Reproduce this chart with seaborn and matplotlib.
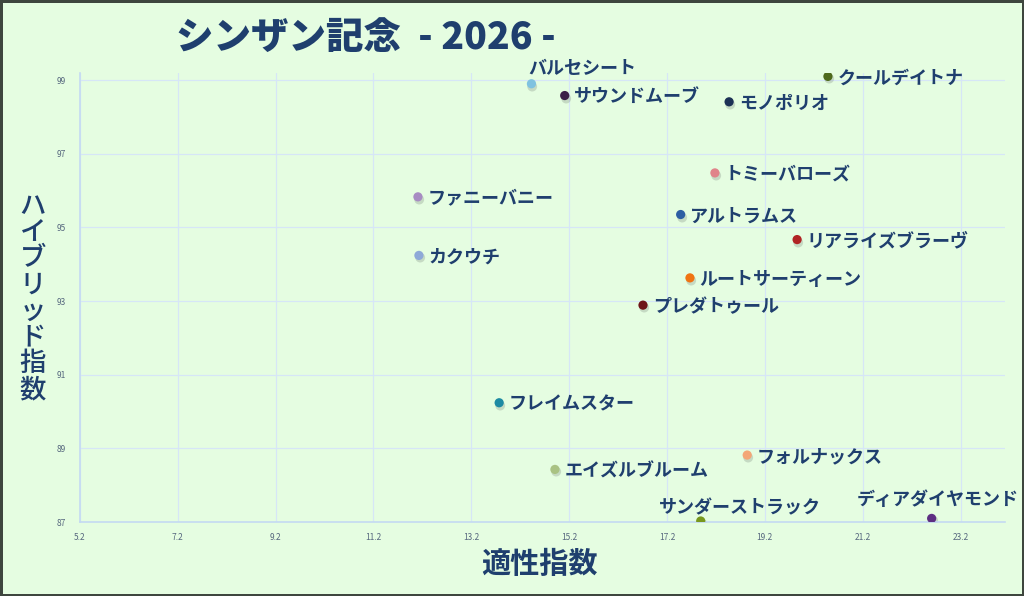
import matplotlib
matplotlib.use("Agg")
import matplotlib.pyplot as plt
import matplotlib.transforms as mtransforms
import pandas as pd
import seaborn as sns

# 馬名・適性指数・ハイブリッド指数
horses = ["バルセシート", "サウンドムーブ", "モノポリオ", "クールデイトナ",
          "トミーバローズ", "ファニーバニー", "アルトラムス", "リアライズブラーヴ",
          "カクウチ", "ルートサーティーン", "プレダトゥール", "フレイムスター",
          "フォルナックス", "エイズルブルーム", "サンダーストラック", "ディアダイヤモンド"]
aptitude = [14.43, 15.11, 18.47, 20.49, 18.18, 12.11, 17.48, 19.86,
            12.13, 17.67, 16.71, 13.77, 18.84, 14.91, 17.89, 22.61]
hybrid = [98.90, 98.58, 98.41, 99.10, 96.48, 95.83, 95.35, 94.67,
          94.24, 93.63, 92.89, 90.24, 88.82, 88.43, 87.03, 87.10]
colors = ["#7fc2e0", "#3b2048", "#1c3155", "#4e6a1c", "#e0848a", "#a78cc2",
          "#2d5ea3", "#b02424", "#8ea9d8", "#f07412", "#6e1418", "#1d8aa3",
          "#f3a676", "#a9c283", "#78981e", "#5d2f82"]
x_ticks = [5.2, 7.2, 9.2, 11.2, 13.2, 15.2, 17.2, 19.2, 21.2, 23.2]
y_ticks = [87, 89, 91, 93, 95, 97, 99]

df = pd.DataFrame({"name": horses, "x": aptitude, "y": hybrid})

BG = "#e5fde1"
NAVY = "#1f3f6e"

sns.set_style("white")
plt.rcParams["font.family"] = ["Noto Sans CJK JP", "DejaVu Sans"]

fig = plt.figure(figsize=(10.24, 5.96), dpi=100, facecolor=BG,
                 edgecolor="#3e463e", linewidth=2.5)
ax = fig.add_axes([0.078, 0.124, 0.903, 0.754])
ax.set_facecolor(BG)

# 点の下の薄い影
sns.scatterplot(data=df, x="x", y="y", color="#8c9a8c", alpha=0.35, s=50,
                linewidth=0, ax=ax, legend=False)
shadow = ax.collections[-1]
shadow.set_transform(shadow.get_transform()
                     + mtransforms.ScaledTranslation(0.5 / 72, -1.5 / 72,
                                                     fig.dpi_scale_trans))
sns.scatterplot(data=df, x="x", y="y", hue="name", palette=colors, s=44,
                linewidth=0, ax=ax, legend=False, zorder=3)

# ラベル位置（右以外のもの）
above = {"バルセシート": (-2, 4),
         "サンダーストラック": (-30, 3),
         "ディアダイヤモンド": (-54, 7)}
for name, xv, yv in zip(horses, aptitude, hybrid):
    if name in above:
        dx, dy = above[name]
        ax.annotate(name, (xv, yv), xytext=(dx, dy), textcoords="offset points",
                    ha="left", va="bottom", fontsize=13, fontweight="bold",
                    color=NAVY, zorder=4)
    else:
        ax.annotate(name, (xv, yv), xytext=(7, -1), textcoords="offset points",
                    ha="left", va="center", fontsize=13, fontweight="bold",
                    color=NAVY, zorder=4)

ax.set_xlim(5.2, 24.1)
ax.set_ylim(87, 99.2)
ax.set_xticks(x_ticks)
ax.set_xticklabels([f"{t:.1f}" for t in x_ticks])
ax.set_yticks(y_ticks)
ax.tick_params(axis="x", labelsize=6, colors="#56677e", length=0, pad=8)
ax.tick_params(axis="y", labelsize=6, colors="#56677e", length=0, pad=10)
ax.grid(True, color="#d6e6f7", linewidth=0.9)
ax.set_axisbelow(True)
for side in ["top", "right"]:
    ax.spines[side].set_visible(False)
for side in ["left", "bottom"]:
    ax.spines[side].set_color("#c4daf2")
    ax.spines[side].set_linewidth(1.2)
ax.set_xlabel("")
ax.set_ylabel("")

fig.text(0.527, 0.054, "適性指数", ha="center", va="center", fontsize=21,
         fontweight="bold", color=NAVY)
fig.text(0.032, 0.50, "\n".join("ハイブリッド指数"), ha="center", va="center",
         fontsize=19, fontweight="medium", color=NAVY, linespacing=0.96)
fig.text(0.172, 0.937, "シンザン記念  - 2026 -", ha="left", va="center",
         fontsize=27, fontweight="heavy", color=NAVY)

fig.savefig("out.png", dpi=100, facecolor=BG, edgecolor=fig.get_edgecolor())
